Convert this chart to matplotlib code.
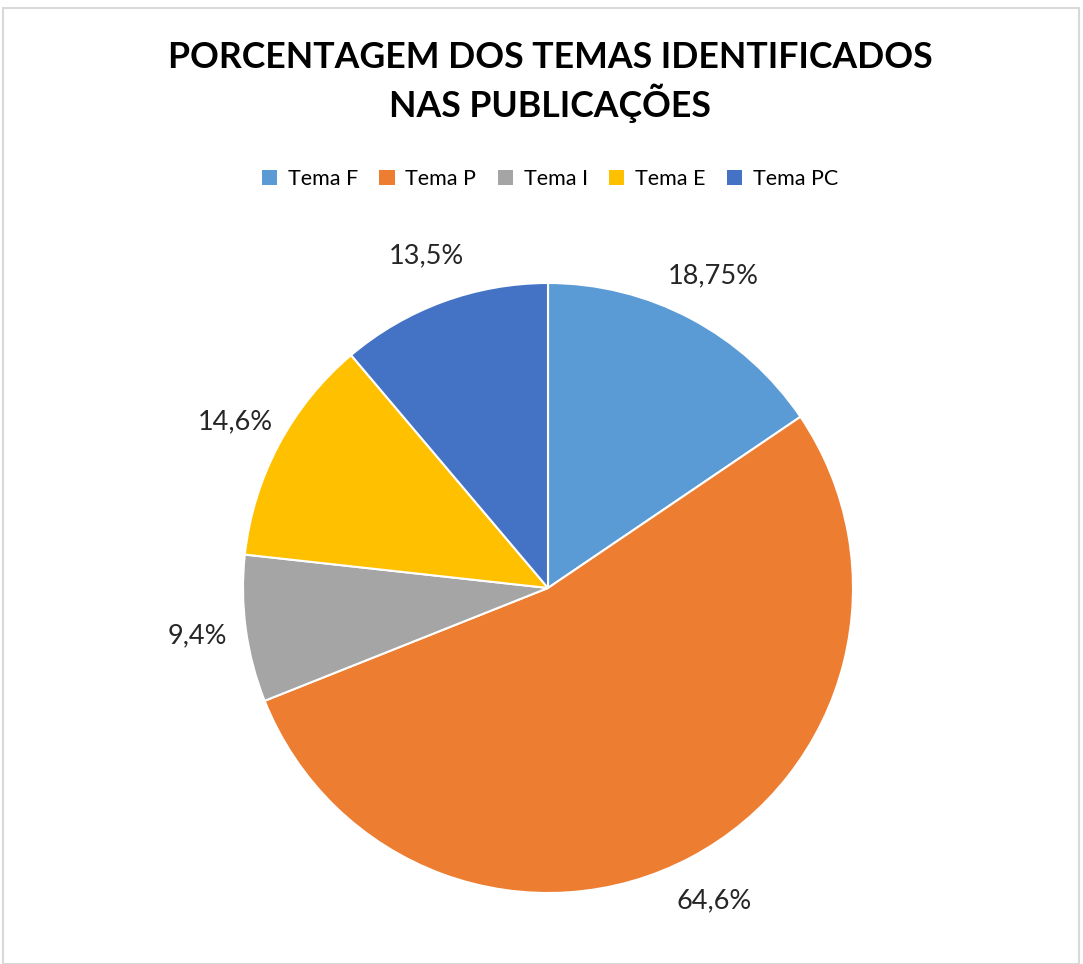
import matplotlib
matplotlib.use("Agg")
import matplotlib.pyplot as plt
from matplotlib.patches import Rectangle, Patch

FONT = "Lato"

categories = ["Tema F", "Tema P", "Tema I", "Tema E", "Tema PC"]
values = [18.75, 64.6, 9.4, 14.6, 13.5]
labels = ["18,75%", "64,6%", "9,4%", "14,6%", "13,5%"]
colors = ["#5B9BD5", "#ED7D31", "#A5A5A5", "#FFC000", "#4472C4"]

fig = plt.figure(figsize=(10.83, 9.64), dpi=100)
W, H = 1083, 964
fig.patches.append(Rectangle((3/W, 0), (1079-3)/W, (964-8)/H, transform=fig.transFigure,
                             fill=False, edgecolor="#D9D9D9", linewidth=1.5))

cx, cy, r = 548, 588, 305
ax = fig.add_axes([(cx - r)/W, (H - cy - r)/H, 2*r/W, 2*r/H])
wedges, texts = ax.pie(values, colors=colors, startangle=90, counterclock=False,
                       labels=labels, labeldistance=1.16,
                       wedgeprops=dict(edgecolor="white", linewidth=1.5),
                       textprops=dict(fontsize=19.5, family=FONT, color="#262626"))
for t in texts:
    t.set_ha("center")
    t.set_va("center")
ax.set_xlim(-1, 1)
ax.set_ylim(-1, 1)
ax.set_aspect("equal")

fig.text(550/W, 1 - 82/H, "PORCENTAGEM DOS TEMAS IDENTIFICADOS\nNAS PUBLICAÇÕES",
         ha="center", va="center", fontsize=25.7, fontweight="bold", family=FONT,
         linespacing=1.3, color="black")

handles = [Patch(facecolor=c, edgecolor="none") for c in colors]
fig.legend(handles, categories, loc="center", bbox_to_anchor=(550/W, 1 - 179/H),
           ncol=5, frameon=False, prop=dict(family=FONT, size=15.5),
           handlelength=0.7, handleheight=0.7, handletextpad=0.5, columnspacing=1.0)

fig.savefig("out.png", dpi=100, facecolor="white")
